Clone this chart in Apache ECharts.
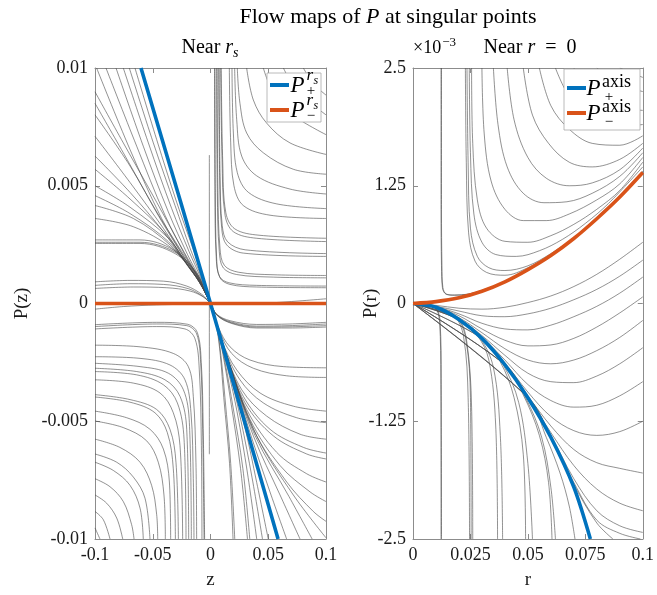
<!DOCTYPE html>
<html><head><meta charset="utf-8">
<script src="https://cdn.jsdelivr.net/npm/echarts@6/dist/echarts.min.js"></script>
<style>html,body{margin:0;padding:0;background:#fff}#c{width:657px;height:595px}</style>
</head><body><div id="c"></div>
<script>
// ---------------- DATA ----------------
const MILLI = 1e-3;
const zTickLabels  = ['-0.1','-0.05','0','0.05','0.1'];
const pzTickLabels = ['-0.01','-0.005','0','0.005','0.01'];
const rTickLabels  = ['0','0.025','0.05','0.075','0.1'];
const prTickLabels = ['-2.5','-1.25','0','1.25','2.5'];

// Near r_s : points are [z x1e3, P x1e3]
const nearRsPlus  = [[-60.2,10],[0,0],[58.5,-10]];
const nearRsMinus = [[-100,0],[100,0]];
const rsUpperLeft = [
  [[-65.4,10],[-46.6,6.96],[-29.3,4.30],[-16.3,2.49],[-7.6,1.23],[0,0]],
  [[-70.3,10],[-49.5,6.82],[-30.7,4.16],[-17.7,2.35],[-8.2,1.16],[0,0]],
  [[-75.5,10],[-53.8,6.82],[-33.6,4.03],[-18.6,2.21],[-8.5,1.09],[0,0]],
  [[-81.8,10],[-58.2,6.68],[-36.5,3.89],[-19.8,2.07],[-8.8,1.02],[0,0]],
  [[-90.5,10],[-63.9,6.68],[-39.4,3.75],[-20.6,1.93],[-9.1,0.95],[0,0]],
  [[-98.6,10],[-69.7,6.54],[-42.3,3.61],[-21.5,1.86],[-9.4,0.92],[0,0]],
  [[-100,8.99],[-75.5,6.82],[-46.6,4.30],[-26.4,2.49],[-12.0,1.23],[0,0]],
  [[-100,8.50],[-75.5,6.40],[-46.6,3.89],[-25.0,2.21],[-10.5,1.09],[0,0]],
  [[-100,8.01],[-69.7,5.84],[-43.7,3.61],[-23.5,2.00],[-10.0,1.02],[0,0]],
  [[-100,7.10],[-69.7,5.14],[-40.8,3.19],[-22.1,1.79],[-9.7,0.95],[0,0]],
  [[-100,6.26],[-69.7,4.72],[-40.8,3.05],[-20.6,1.65],[-9.1,0.88],[0,0]],
  [[-100,5.70],[-69.7,4.44],[-37.9,2.91],[-19.2,1.58],[-8.5,0.81],[0,0]],
  [[-100,5.00],[-69.7,4.09],[-36.5,2.77],[-17.7,1.48],[-7.6,0.74],[0,0]],
  [[-100,4.58],[-69.7,3.82],[-36.5,2.63],[-16.3,1.40],[-6.8,0.67],[0,0]],
  [[-100,4.16],[-66.8,3.61],[-35.1,2.49],[-14.9,1.30],[-6.2,0.60],[0,0]],
  [[-100,3.61],[-66.8,3.26],[-33.6,2.35],[-13.4,1.23],[-5.3,0.53],[0,0]],
  [[-100,2.70],[-61.0,2.70],[-32.2,2.28],[-12.0,1.30],[-4.2,0.46],[0,0]],
  [[-100,2.60],[-61.0,2.60],[-30.7,2.18],[-11.4,1.23],[-3.9,0.42],[0,0]],
  [[-100,2.55],[-61.0,2.55],[-30.7,2.12],[-11.4,1.19],[-3.9,0.40],[0,0]],
  [[-100,0.92],[-69.7,0.98],[-40.8,0.95],[-20.6,0.74],[-7.6,0.39],[0,0]],
  [[-100,0.77],[-69.7,0.84],[-40.8,0.81],[-19.2,0.63],[-7.1,0.32],[0,0]],
  [[-100,0.64],[-66.8,0.70],[-37.9,0.67],[-17.7,0.53],[-6.2,0.28],[0,0]]
];
const rsUpperRight = [
  [[3.5,10],[3.8,4.8],[4.9,2.0],[7.8,1.15],[16,0.88],[40,0.77],[100,0.74]],
  [[3.9,10],[4.2,4.72],[5.3,1.93],[8.2,1.09],[16.9,0.81],[40,0.70],[100,0.67]],
  [[5.3,10],[5.9,4.72],[7.6,2.21],[11.1,1.51],[22.7,1.23],[54.4,1.12],[100,1.09]],
  [[5.8,10],[6.4,4.8],[8.2,2.35],[12,1.62],[24,1.33],[55,1.22],[100,1.19]],
  [[7.1,10],[7.9,5.42],[9.7,3.19],[14.0,2.49],[28.4,2.14],[100,2.0]],
  [[7.5,10],[8.3,5.4],[10.2,3.3],[14.8,2.62],[30,2.28],[100,2.12]],
  [[8.8,10],[10.0,6.12],[12.6,3.75],[19.8,3.05],[40,2.77],[100,2.63]],
  [[9.3,10],[10.6,6.0],[13.3,3.85],[21,3.17],[42,2.9],[100,2.77]],
  [[16.3,10],[17.5,6.82],[20.3,5.0],[28.4,4.16],[51.5,3.75],[100,3.61]],
  [[18.6,10],[19.8,7.24],[23.2,5.56],[32.8,4.72],[57.3,4.23],[100,4.03]],
  [[20.9,10],[22.7,7.8],[27.0,6.26],[40,5.42],[68.8,4.86],[100,4.65]],
  [[23.2,10],[25.5,8.5],[31.3,7.24],[45.7,6.4],[71.7,5.7],[100,5.49]],
  [[31.3,10],[37.1,8.64],[48.6,7.66],[68.8,6.82],[100,6.33]],
  [[45.7,10],[54.4,8.92],[68.8,8.08],[100,7.17]],
  [[63.1,10],[74.6,9.06],[100,8.01]],
  [[80.4,10],[89,9.34],[100,8.85]]
];
const rsLowerLeft = [
  [[-100,-0.24],[-75.5,-0.13],[-46.6,-0.06],[-17.7,-0.03]],
  [[-100,-0.90],[-46.6,-0.80],[-20.0,-0.88],[-11.5,-1.22],[-8.0,-2.50],[-6.3,-5.30],[-5.1,-10]],
  [[-100,-0.98],[-46.6,-0.87],[-20.6,-0.94],[-12.0,-1.29],[-8.5,-2.54],[-6.8,-5.34],[-5.6,-10]],
  [[-100,-1.08],[-46.6,-0.98],[-22.1,-1.08],[-13.4,-1.50],[-9.7,-2.82],[-7.9,-6.04],[-7.4,-10]],
  [[-100,-1.77],[-61.0,-1.84],[-32.2,-2.12],[-19.2,-2.68],[-14.9,-3.94],[-12.6,-6.74],[-12.0,-10]],
  [[-100,-2.26],[-61.0,-2.33],[-35.1,-2.61],[-22.1,-3.24],[-16.9,-4.64],[-14.9,-7.44],[-14.3,-10]],
  [[-100,-2.54],[-61.0,-2.68],[-36.5,-2.96],[-23.5,-3.66],[-18.3,-5.06],[-16.6,-10]],
  [[-100,-2.75],[-63.9,-2.89],[-39.4,-3.24],[-26.4,-3.94],[-20.6,-5.34],[-18.9,-10]],
  [[-100,-2.89],[-63.9,-3.03],[-40.8,-3.45],[-28.7,-4.22],[-22.9,-5.76],[-21.2,-10]],
  [[-100,-3.24],[-66.8,-3.38],[-43.7,-3.80],[-32.2,-4.64],[-26.4,-6.04],[-24.1,-10]],
  [[-100,-3.87],[-69.7,-4.08],[-46.6,-4.50],[-35.1,-5.34],[-29.9,-6.74],[-27.8,-10]],
  [[-100,-3.97],[-69.7,-4.19],[-48.1,-4.64],[-37.4,-5.48],[-32.2,-7.02],[-30.4,-10]],
  [[-100,-4.57],[-72.6,-4.85],[-52.4,-5.34],[-40.8,-6.18],[-35.6,-7.58],[-34.5,-10]],
  [[-100,-4.99],[-75.5,-5.27],[-55.3,-5.83],[-45.2,-6.74],[-40.3,-8.13],[-39.1,-10]],
  [[-100,-5.76],[-78.5,-6.11],[-61.0,-6.74],[-51.0,-7.72],[-46.6,-8.97],[-45.7,-10]],
  [[-100,-6.39],[-81.2,-6.74],[-66.8,-7.37],[-56.7,-8.27],[-52.4,-10]],
  [[-100,-6.74],[-84.1,-7.09],[-69.7,-7.72],[-61.0,-8.69],[-58.2,-10]],
  [[-100,-7.44],[-87.0,-7.78],[-75.5,-8.41],[-68.3,-9.39],[-66.2,-10]],
  [[-100,-8.13],[-89.9,-8.48],[-81.2,-9.11],[-76.0,-10]],
  [[-100,-8.83],[-92.8,-9.18],[-87.0,-10]],
  [[-100,-9.53],[-95.7,-10]]
];
const rsLowerRight = [
  [[0,0],[5.3,-0.45],[16.9,-0.73],[40,-0.89],[68.8,-0.87],[100,-0.80]],
  [[0,0],[5.5,-0.48],[17.5,-0.78],[40,-0.96],[68.8,-0.94],[100,-0.87]],
  [[0,0],[5.8,-0.50],[18,-0.82],[40,-1.00],[68.8,-0.99],[100,-0.94]],
  [[0,0],[6.0,-0.52],[18.5,-0.85],[40,-1.04],[68.8,-1.04],[100,-1.00]],
  [[0,0],[6.8,-1.01],[16.9,-1.84],[34.2,-2.40],[63.1,-2.68],[100,-2.73]],
  [[0,0],[7.6,-1.15],[18.3,-2.12],[37.1,-2.75],[66.0,-3.07],[100,-3.14]],
  [[0,0],[9.7,-1.57],[22.7,-2.82],[42.9,-3.80],[71.7,-4.36],[100,-4.57]],
  [[0,0],[10.5,-1.71],[25.5,-3.24],[45.7,-4.22],[74.6,-4.85],[100,-5.06]],
  [[0,0],[11.1,-1.80],[27.0,-3.66],[48.6,-4.78],[77.5,-5.55],[100,-5.76]],
  [[0,0],[12.0,-1.95],[28.4,-3.94],[51.5,-5.34],[80.4,-6.11],[100,-6.35]],
  [[0,0],[12.6,-2.02],[29.9,-4.22],[54.4,-5.62],[83.3,-6.39],[100,-6.60]],
  [[0,0],[13.4,-2.15],[31.3,-4.50],[57.3,-6.32],[83.3,-7.23],[100,-7.58]],
  [[0,0],[14.0,-2.26],[34.2,-4.92],[60.2,-6.88],[86.2,-8.00],[100,-8.41]],
  [[0,0],[14.6,-2.33],[37.1,-5.34],[66.0,-7.58],[89.0,-8.83],[100,-9.25]],
  [[0,0],[15.2,-2.40],[40.0,-5.62],[71.7,-8.13],[100,-9.95]],
  [[0,0],[14.8,-2.37],[38.5,-5.60],[68,-8.20],[88,-10]],
  [[0,0],[14.6,-2.40],[37.1,-5.62],[60.2,-8.13],[77.5,-10]],
  [[0,0],[14.0,-2.30],[34.2,-5.48],[51.5,-8.00],[65.9,-10]],
  [[0,0],[5.3,-1.0],[8.5,-2.2],[11.5,-4.0],[16.5,-6.8],[19.5,-10]],
  [[0,0],[5.5,-1.0],[9,-2.2],[12.5,-4.0],[17.5,-6.8],[21,-10]],
  [[0,0],[6.5,-1.15],[12,-2.5],[18,-4.3],[26,-7],[32,-10]],
  [[0,0],[7,-1.22],[13,-2.6],[19.5,-4.4],[28,-7],[34,-10]],
  [[0,0],[8,-1.4],[15.5,-2.9],[23,-4.6],[32,-7.2],[40,-10]],
  [[0,0],[9,-1.55],[17.5,-3.1],[26.5,-5.0],[36,-7.4],[45,-10]],
  [[0,0],[10,-1.72],[20,-3.45],[30,-5.3],[40,-7.6],[50,-10]],
  [[40,0.0],[60,0.05],[80,0.12],[100,0.2]]
];
const rsCentreLine = [[-1,6.3],[-1,-6.4]];

// Near r = 0 : points are [r, P x1e3]
const axisPlus  = [[0,0],[0.01,-0.04],[0.02,-0.17],[0.03,-0.37],[0.04,-0.65],[0.05,-1.0],[0.06,-1.42],[0.07,-1.95],[0.0772,-2.5]];
const axisMinus = [[0,0],[0.01,0.02],[0.02,0.06],[0.03,0.13],[0.04,0.23],[0.05,0.36],[0.06,0.51],[0.07,0.69],[0.08,0.9],[0.09,1.13],[0.1,1.39]];
const axisUpper = [
  [[0.0124,2.5],[0.0124,1.0],[0.0126,0.4],[0.013,0.17],[0.0145,0.1],[0.018,0.09],[0.024,0.1],[0.03,0.14],[0.04,0.235],[0.05,0.365],[0.06,0.515],[0.07,0.695],[0.08,0.905],[0.09,1.135],[0.1,1.395]],
  [[0.0122,2.5],[0.0122,1.0],[0.0124,0.4],[0.0128,0.17],[0.0143,0.1],[0.018,0.088],[0.024,0.098],[0.03,0.138],[0.04,0.233],[0.05,0.363],[0.06,0.513],[0.07,0.693],[0.08,0.903],[0.09,1.133],[0.1,1.393]],
  [[0.0228,2.5],[0.0232,1.5],[0.0242,0.75],[0.027,0.45],[0.032,0.33],[0.04,0.3],[0.05,0.38],[0.06,0.52],[0.07,0.695],[0.08,0.91],[0.09,1.14],[0.1,1.4]],
  [[0.0235,2.5],[0.024,1.5],[0.025,0.8],[0.028,0.5],[0.033,0.38],[0.04,0.35],[0.05,0.4],[0.06,0.53],[0.07,0.7],[0.08,0.915],[0.09,1.145],[0.1,1.405]],
  [[0.0245,2.5],[0.025,1.6],[0.0265,0.95],[0.03,0.65],[0.036,0.52],[0.045,0.5],[0.055,0.56],[0.065,0.68],[0.075,0.85],[0.085,1.06],[0.1,1.45]],
  [[0.0255,2.5],[0.026,1.7],[0.028,1.1],[0.032,0.8],[0.04,0.66],[0.05,0.65],[0.06,0.72],[0.07,0.84],[0.08,1.0],[0.09,1.2],[0.1,1.5]],
  [[0.03,2.5],[0.031,1.8],[0.034,1.3],[0.04,1.0],[0.048,0.88],[0.058,0.88],[0.068,0.95],[0.08,1.1],[0.09,1.27],[0.1,1.55]],
  [[0.035,2.5],[0.037,1.9],[0.041,1.45],[0.048,1.17],[0.057,1.07],[0.067,1.08],[0.078,1.17],[0.09,1.35],[0.1,1.6]],
  [[0.041,2.5],[0.044,1.95],[0.05,1.55],[0.058,1.33],[0.068,1.25],[0.078,1.28],[0.09,1.42],[0.1,1.65]],
  [[0.048,2.5],[0.052,2.0],[0.059,1.7],[0.068,1.5],[0.078,1.45],[0.09,1.53],[0.1,1.7]],
  [[0.055,2.5],[0.06,2.1],[0.068,1.85],[0.078,1.7],[0.09,1.68],[0.1,1.78]],
  [[0.062,2.5],[0.068,2.2],[0.078,1.97],[0.09,1.88],[0.1,1.9]],
  [[0.07,2.5],[0.077,2.27],[0.088,2.1],[0.1,2.05]],
  [[0.08,2.5],[0.09,2.33],[0.1,2.25]],
  [[0.09,2.5],[0.1,2.4]]
];
const axisLower = [
  [[0,0],[0.006,-0.01],[0.01,-0.04],[0.0118,-0.2],[0.0123,-0.8],[0.0124,-2.5]],
  [[0,0],[0.006,-0.012],[0.0098,-0.045],[0.0116,-0.2],[0.0121,-0.8],[0.0122,-2.5]],
  [[0,0],[0.01,-0.04],[0.018,-0.13],[0.022,-0.35],[0.024,-1.0],[0.0246,-2.5]],
  [[0,0],[0.01,-0.04],[0.019,-0.15],[0.023,-0.38],[0.025,-1.0],[0.0253,-2.5]],
  [[0,0],[0.01,-0.04],[0.02,-0.17],[0.0235,-0.42],[0.0255,-1.1],[0.026,-2.5]],
  [[0,0],[0.02,-0.17],[0.028,-0.34],[0.033,-0.6],[0.036,-1.3],[0.0368,-2.5]],
  [[0,0],[0.02,-0.17],[0.029,-0.36],[0.035,-0.68],[0.038,-1.4],[0.039,-2.5]],
  [[0,0],[0.03,-0.37],[0.038,-0.62],[0.044,-1.0],[0.048,-1.6],[0.049,-2.5]],
  [[0,0],[0.03,-0.37],[0.039,-0.64],[0.046,-1.05],[0.05,-1.7],[0.052,-2.5]],
  [[0,0],[0.04,-0.65],[0.048,-0.97],[0.055,-1.4],[0.059,-1.9],[0.0605,-2.5]],
  [[0,0],[0.04,-0.65],[0.049,-1.0],[0.056,-1.42],[0.06,-1.95],[0.062,-2.5]],
  [[0,0],[0.05,-1.0],[0.058,-1.42],[0.064,-1.8],[0.068,-2.15],[0.0705,-2.5]],
  [[0,0],[0.01,-0.02],[0.02,-0.05],[0.03,-0.06],[0.04,-0.04],[0.05,0.01],[0.06,0.08],[0.07,0.18],[0.08,0.31],[0.09,0.47],[0.1,0.65]],
  [[0,0],[0.01,-0.03],[0.02,-0.08],[0.03,-0.13],[0.04,-0.14],[0.05,-0.11],[0.06,-0.05],[0.07,0.04],[0.08,0.15],[0.09,0.29],[0.1,0.46]],
  [[0,0],[0.01,-0.035],[0.02,-0.11],[0.03,-0.21],[0.04,-0.27],[0.05,-0.28],[0.06,-0.23],[0.07,-0.14],[0.08,-0.03],[0.09,0.11],[0.1,0.28]],
  [[0,0],[0.01,-0.04],[0.02,-0.13],[0.03,-0.27],[0.04,-0.39],[0.05,-0.45],[0.06,-0.44],[0.07,-0.37],[0.08,-0.25],[0.09,-0.1],[0.1,0.07]],
  [[0,0],[0.01,-0.04],[0.02,-0.15],[0.03,-0.31],[0.04,-0.48],[0.05,-0.6],[0.06,-0.64],[0.07,-0.6],[0.08,-0.5],[0.09,-0.36],[0.1,-0.18]],
  [[0,0],[0.01,-0.04],[0.02,-0.16],[0.03,-0.34],[0.04,-0.55],[0.05,-0.74],[0.06,-0.83],[0.07,-0.84],[0.08,-0.77],[0.09,-0.64],[0.1,-0.47]],
  [[0,0],[0.01,-0.04],[0.02,-0.165],[0.03,-0.355],[0.04,-0.6],[0.05,-0.86],[0.06,-1.03],[0.07,-1.1],[0.08,-1.08],[0.09,-0.98],[0.1,-0.83]],
  [[0,0],[0.02,-0.168],[0.03,-0.365],[0.04,-0.63],[0.05,-0.94],[0.06,-1.2],[0.07,-1.35],[0.08,-1.4],[0.09,-1.36],[0.1,-1.25]],
  [[0,0],[0.02,-0.169],[0.04,-0.645],[0.05,-0.98],[0.06,-1.3],[0.07,-1.55],[0.08,-1.69],[0.09,-1.75],[0.1,-1.8]],
  [[0,0],[0.02,-0.169],[0.04,-0.648],[0.05,-0.99],[0.06,-1.37],[0.07,-1.72],[0.08,-1.97],[0.09,-2.12],[0.1,-2.2]],
  [[0,0],[0.04,-0.649],[0.05,-0.995],[0.06,-1.4],[0.07,-1.86],[0.08,-2.2],[0.09,-2.36],[0.1,-2.43]],
  [[0,0],[0.05,-0.998],[0.06,-1.41],[0.07,-1.92],[0.08,-2.33],[0.087,-2.5]],
  [[0,0],[0.05,-0.999],[0.06,-1.415],[0.07,-1.9],[0.08,-2.3],[0.09,-2.44],[0.099,-2.5]]
];

// ---------------- CHART ----------------
const FONT = '"Liberation Serif", "Times New Roman", serif';
const AX = '#8c8c8c';
const BLUE = '#0072BD', ORANGE = '#D95319';
const chart = echarts.init(document.getElementById('c'));

function fmt(labels, min, step){ return v => { const i = Math.round((v - min) / step); return labels[i] !== undefined ? labels[i] : ''; }; }
function xAx(gi, pos, min, max, step, labels, name){
  return {gridIndex:gi, type:'value', position:pos, min:min, max:max, interval:step,
    axisLine:{show:true, onZero:false, lineStyle:{color:AX, width:1}},
    axisTick:{show:true, inside:true, length:5, lineStyle:{color:AX}},
    axisLabel:{show:pos==='bottom', formatter:fmt(labels,min,step), fontFamily:FONT, fontSize:18, color:'#1a1a1a', margin:7, showMinLabel:true, showMaxLabel:true},
    splitLine:{show:false},
    name: pos==='bottom' ? name : '', nameLocation:'middle', nameGap:32, nameMoveOverlap:false,
    nameTextStyle:{fontFamily:FONT, fontSize:19, color:'#1a1a1a'}};
}
function yAx(gi, pos, min, max, step, labels, name, gap){
  return {gridIndex:gi, type:'value', position:pos, min:min, max:max, interval:step,
    axisLine:{show:true, onZero:false, lineStyle:{color:AX, width:1}},
    axisTick:{show:true, inside:true, length:5, lineStyle:{color:AX}},
    axisLabel:{show:pos==='left', formatter:fmt(labels,min,step), fontFamily:FONT, fontSize:18, color:'#1a1a1a', margin:7, showMinLabel:true, showMaxLabel:true},
    splitLine:{show:false},
    name: pos==='left' ? name : '', nameLocation:'middle', nameGap:gap, nameMoveOverlap:false,
    nameTextStyle:{fontFamily:FONT, fontSize:19, color:'#1a1a1a'}};
}
function grayLines(curves, xs, ys, ai){
  return curves.map(c => ({type:'line', xAxisIndex:ai, yAxisIndex:ai, silent:true, animation:false,
    data:c.map(p => [p[0]*xs, p[1]*ys]), smooth:0.35, showSymbol:false, symbol:'none',
    lineStyle:{color:'#4a4a4a', width:0.75, opacity:0.8}, z:2}));
}
function mainLine(pts, xs, ys, ai, color){
  return {type:'line', xAxisIndex:ai, yAxisIndex:ai, silent:true, animation:false,
    data:pts.map(p => [p[0]*xs, p[1]*ys]), smooth:0.3, showSymbol:false, symbol:'none',
    lineStyle:{color:color, width:3.6}, z:5};
}

const series = [].concat(
  grayLines(rsUpperLeft, MILLI, MILLI, 0),
  grayLines(rsUpperRight, MILLI, MILLI, 0),
  grayLines(rsLowerLeft, MILLI, MILLI, 0),
  grayLines(rsLowerRight, MILLI, MILLI, 0),
  grayLines([rsCentreLine], MILLI, MILLI, 0),
  grayLines(axisUpper, 1, MILLI, 2),
  grayLines(axisLower, 1, MILLI, 2),
  [mainLine(nearRsPlus, MILLI, MILLI, 0, BLUE),
   mainLine(nearRsMinus, MILLI, MILLI, 0, ORANGE),
   mainLine(axisPlus, 1, MILLI, 2, BLUE),
   mainLine(axisMinus, 1, MILLI, 2, ORANGE)]
);

// text helpers
const mctx = document.createElement('canvas').getContext('2d');
function tw(t, size, italic){ mctx.font = (italic?'italic ':'') + size + 'px ' + FONT; return mctx.measureText(t).width; }
function T(x, base, text, size, italic, align){
  return {type:'text', z:100, silent:true, style:{text:text, x:x, y:base - 0.30*size, fontFamily:FONT, fontSize:size,
    fontStyle: italic?'italic':'normal', fill:'#000', textAlign:align||'left', align:align||'left',
    textVerticalAlign:'middle', verticalAlign:'middle'}};
}
function runs(cx, base, parts){ // parts: [text,size,italic,dy]
  const total = parts.reduce((s,p)=>s+tw(p[0],p[1],p[2]),0);
  let x = cx - total/2; const out = [];
  parts.forEach(p => { out.push(T(x, base + (p[3]||0), p[0], p[1], p[2])); x += tw(p[0],p[1],p[2]); });
  return out;
}

const graphics = [].concat(
  runs(388, 24, [['Flow maps of ',22,false],['P',22,true],[' at singular points',22,false]]),
  runs(210, 54, [['Near ',20,false],['r',20,true],['s',14,true,4]]),
  runs(530, 54, [['Near ',20,false],['r',20,true],['\u2002=\u20020',20,false]]),
  [T(413, 54, '\u00d710', 18, false), T(413 + tw('\u00d710',18,false) + 1, 46, '\u22123', 13, false)],
  // legend left
  [{type:'rect', z:90, silent:true, shape:{x:267, y:73, width:54, height:49}, style:{fill:'#fff', stroke:'#a8a8a8', lineWidth:0.8}},
   {type:'line', z:95, silent:true, shape:{x1:270, y1:85, x2:289, y2:85}, style:{stroke:BLUE, lineWidth:4}},
   {type:'line', z:95, silent:true, shape:{x1:270, y1:110, x2:289, y2:110}, style:{stroke:ORANGE, lineWidth:4}},
   T(290.5, 92.5, 'P', 23, true), T(306.5, 81, 'r', 17, true), T(313.5, 84, 's', 12, true), T(311, 96, '+', 15, false, 'center'),
   T(290.5, 117.5, 'P', 23, true), T(306.5, 106, 'r', 17, true), T(313.5, 109, 's', 12, true), T(311, 121, '\u2212', 15, false, 'center'),
  // legend right
   {type:'rect', z:90, silent:true, shape:{x:564, y:69, width:76, height:61}, style:{fill:'#fff', stroke:'#a8a8a8', lineWidth:0.8}},
   {type:'line', z:95, silent:true, shape:{x1:567, y1:88, x2:586, y2:88}, style:{stroke:BLUE, lineWidth:4}},
   {type:'line', z:95, silent:true, shape:{x1:567, y1:113, x2:586, y2:113}, style:{stroke:ORANGE, lineWidth:4}},
   T(586.5, 95.5, 'P', 23, true), T(602, 87.5, 'axis', 18, false), T(609, 101.5, '+', 15, false, 'center'),
   T(586.5, 120.5, 'P', 23, true), T(602, 112.5, 'axis', 18, false), T(609, 126.5, '\u2212', 15, false, 'center')]
);

chart.setOption({
  backgroundColor:'#fff',
  animation:false,
  grid:[{left:95, top:68, width:231, height:477}, {left:413, top:68, width:232, height:477}],
  xAxis:[xAx(0,'bottom',-0.1,0.1,0.05,zTickLabels,'z'), xAx(0,'top',-0.1,0.1,0.05,zTickLabels,''),
         xAx(1,'bottom',0,0.1,0.025,rTickLabels,'r'), xAx(1,'top',0,0.1,0.025,rTickLabels,'')],
  yAxis:[yAx(0,'left',-0.01,0.01,0.005,pzTickLabels,'P(z)',63), yAx(0,'right',-0.01,0.01,0.005,pzTickLabels,'',0),
         yAx(1,'left',-0.0025,0.0025,0.00125,prTickLabels,'P(r)',32), yAx(1,'right',-0.0025,0.0025,0.00125,prTickLabels,'',0)],
  series:series,
  graphic:{elements:graphics}
});
</script>
</body></html>
